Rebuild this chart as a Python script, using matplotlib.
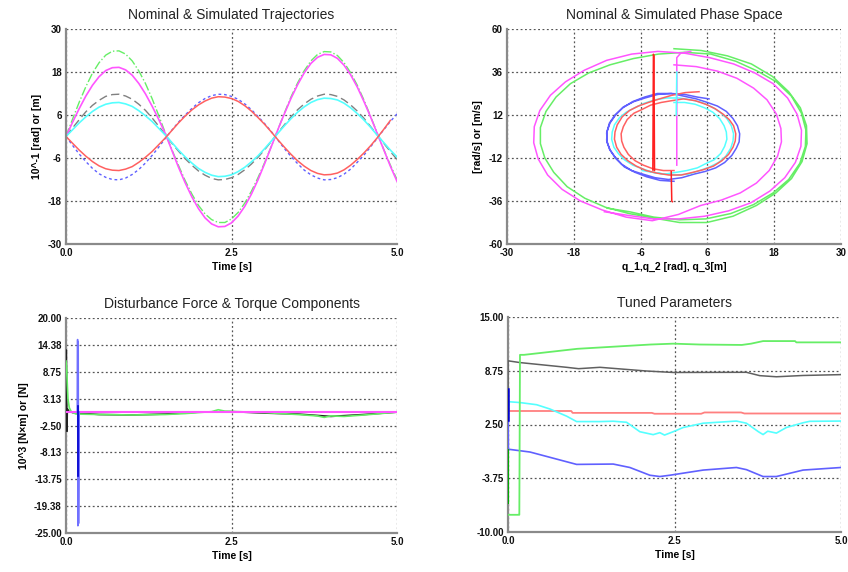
import numpy as np
import matplotlib
matplotlib.use("Agg")
import matplotlib.pyplot as plt

plt.rcParams['font.family'] = ['Liberation Sans', 'DejaVu Sans']
plt.rcParams['lines.solid_joinstyle'] = 'round'

# ---- trajectories (10^-1 rad or m), sampled every 0.1 s
t = np.round(np.arange(0, 51) * 0.1, 2)
q1_nom = [0, 4.9, 9.6, 13.9, 17.7, 20.6, 22.7, 23.8, 23.9, 23.0, 21.1, 18.3, 14.8, 10.6, 5.9, 1.0,
          -3.7, -8.1, -12.3, -16.0, -19.2, -21.6, -23.2, -24.0, -24.0, -23.0, -21.2, -18.6, -15.3, -11.5, -7.3, -2.8,
          1.9, 6.6, 11.1, 15.0, 18.4, 21.1, 22.9, 23.7, 23.6, 22.6, 20.6, 17.8, 14.3, 10.2, 5.7, 1.0,
          -3.6, -8.0, -12.0]
q1_sim = [0, 4.0, 7.8, 11.3, 14.3, 16.7, 18.4, 19.2, 19.3, 18.6, 17.1, 14.8, 11.9, 8.5, 4.8, 0.8,
          -3.9, -8.6, -12.9, -16.8, -20.1, -22.7, -24.4, -25.2, -25.1, -24.1, -22.2, -19.5, -16.1, -12.1, -7.6, -2.9,
          1.9, 6.4, 10.7, 14.5, 17.8, 20.4, 22.1, 22.9, 22.8, 21.8, 19.9, 17.2, 13.8, 9.8, 5.5, 0.9,
          -3.7, -8.3, -12.5]
q2_nom = [0, 2.4, 4.7, 6.9, 8.7, 10.1, 11.2, 11.7, 11.8, 11.3, 10.4, 9.0, 7.3, 5.2, 2.9, 0.5,
          -1.9, -4.1, -6.2, -8.0, -9.6, -10.8, -11.7, -12.1, -12.0, -11.5, -10.6, -9.3, -7.7, -5.8, -3.7, -1.4,
          1.0, 3.3, 5.5, 7.5, 9.1, 10.4, 11.3, 11.8, 11.7, 11.2, 10.2, 8.8, 7.1, 5.1, 2.8, 0.5,
          -1.9, -4.2, -6.4]
q2_sim = [0, 1.9, 3.8, 5.5, 7.0, 8.2, 9.0, 9.4, 9.5, 9.1, 8.4, 7.2, 5.8, 4.2, 2.3, 0.4,
          -1.7, -3.8, -5.7, -7.4, -8.9, -10.0, -10.8, -11.2, -11.1, -10.7, -9.8, -8.6, -7.1, -5.4, -3.4, -1.3,
          0.9, 3.0, 5.0, 6.8, 8.3, 9.5, 10.3, 10.7, 10.6, 10.2, 9.3, 8.0, 6.4, 4.6, 2.6, 0.4,
          -1.7, -3.8, -5.7]
q3_nom = [0, -2.5, -4.9, -7.0, -8.9, -10.4, -11.4, -12.0, -12.1, -11.6, -10.6, -9.2, -7.4, -5.3, -3.0, -0.5,
          1.8, 4.0, 6.0, 7.8, 9.4, 10.6, 11.4, 11.8, 11.7, 11.2, 10.4, 9.1, 7.5, 5.6, 3.6, 1.4,
          -1.0, -3.4, -5.6, -7.6, -9.4, -10.7, -11.6, -12.1, -12.0, -11.5, -10.5, -9.1, -7.2, -5.2, -2.9, -0.5,
          1.9, 4.2, 6.3]
q3_sim = [0, -1.9, -3.8, -5.5, -7.0, -8.2, -9.0, -9.4, -9.5, -9.1, -8.4, -7.2, -5.8, -4.2, -2.3, -0.4,
          1.7, 3.8, 5.7, 7.4, 8.8, 9.9, 10.7, 11.1, 11.0, 10.6, 9.8, 8.6, 7.1, 5.3, 3.4, 1.3,
          -0.9, -3.0, -5.0, -6.8, -8.3, -9.5, -10.3, -10.7, -10.6, -10.2, -9.3, -8.0, -6.4, -4.6, -2.6, -0.4,
          2.0, 4.5]

# start-up jumps in the phase plane (q, dq/dt)
red_jump_x = [-3.8, -3.7, -3.6, -3.5]
red_jump_y = [-18.7, 45.9, 45.0, -19.0]
red_start_x = [-0.3, -0.4, -0.5]
red_start_y = [-36.4, -36.0, -19.6]
mag_start_x = [0.5, 0.5, 1.2, 3.0]
mag_start_y = [-16.0, 44.0, 46.5, 47.5]
cyan_jump_x = [0.4, 0.5]
cyan_jump_y = [12.0, 36.0]

# ---- disturbances (10^3 N m or N)
dist_black_t = [0, 0.005, 0.01, 0.015, 0.02, 0.04, 0.1, 0.5, 1.0, 1.5, 2.0, 2.5, 3.0, 3.5, 4.0, 4.5, 5.0]
dist_black = [12.0, 13.3, 5.0, -3.7, 1.0, 0.5, 0.2, -0.2, -0.3, -0.1, 0.3, 0.4, 0.1, -0.1, -0.6, -0.2, 0.3]
dist_green_t = [0, 0.01, 0.02, 0.03, 0.05, 0.08, 0.15, 0.5, 1.0, 1.5, 1.8, 2.0, 2.2, 2.3, 2.4, 2.6,
                3.0, 3.5, 3.8, 3.9, 4.0, 4.2, 4.5, 5.0]
dist_green = [11.0, 9.5, 6.0, 3.0, 1.2, 0.4, -0.1, -0.2, -0.3, -0.2, 0.0, 0.2, 0.4, 0.8, 0.5, 0.4,
              0.2, -0.2, -0.5, -0.8, -0.5, -0.6, -0.3, 0.3]
dist_mag_t = [0.02, 5.0]
dist_mag = [0.3, 0.3]
dist_blue_t = [0.17, 0.175, 0.18, 0.185, 0.19, 0.2]
dist_blue = [0.2, 15.5, -23.5, 15.0, -23.0, 0.3]
dist_blue2_t = [0.185, 0.185]
dist_blue2 = [1.5, -13.1]

# ---- tuned parameters
par_green_t = [0, 0.155, 0.17, 0.18, 0.24, 1.04, 2.14, 2.48, 2.88, 3.51, 3.65, 3.83, 4.31, 4.33, 5.0]
par_green = [-8.0, -8.0, -8.0, 10.6, 10.6, 11.3, 11.8, 11.9, 11.8, 11.75, 11.9, 12.2, 12.2, 12.05, 12.05]
par_gray_t = [0, 0, 0.005, 0.18, 0.88, 1.06, 1.38, 2.08, 2.48, 3.58, 3.78, 4.03, 4.43, 5.0]
par_gray = [3.0, 9.9, 9.9, 9.7, 9.15, 8.99, 9.15, 8.72, 8.55, 8.57, 8.18, 8.05, 8.2, 8.3]
par_red_t = [0, 0.95, 0.97, 2.16, 2.2, 2.9, 2.95, 3.5, 3.55, 5.0]
par_red = [4.07, 4.07, 3.85, 3.85, 3.75, 3.75, 3.9, 3.9, 3.78, 3.78]
par_cyan_t = [0, 0.01, 0.18, 0.43, 0.63, 0.88, 1.03, 1.38, 1.58, 1.78, 1.98, 2.18, 2.28, 2.35, 2.48,
              2.63, 2.93, 3.43, 3.58, 3.76, 3.83, 3.9, 4.03, 4.18, 4.43, 4.53, 5.0]
par_cyan = [3.0, 5.15, 5.05, 4.8, 4.3, 3.47, 2.84, 2.84, 2.88, 2.76, 1.66, 1.32, 1.55, 1.27, 1.66,
            2.15, 2.65, 2.9, 2.65, 1.66, 1.33, 1.72, 1.5, 2.15, 2.7, 2.87, 2.9]
par_blue_t = [0, 0.005, 0.03, 0.33, 1.03, 1.58, 1.83, 2.13, 2.28, 2.43, 2.93, 3.43, 3.58, 3.83, 4.03, 4.43, 5.0]
par_blue = [6.6, -0.47, -0.4, -0.7, -2.14, -2.1, -2.5, -3.4, -3.55, -3.4, -2.8, -2.5, -2.75, -3.55, -3.55, -2.8, -2.5]
par_green0 = [-0.5, -6.6]
par_blue0 = [6.6, 3.0]

GREEN = '#66ee66'
MAG = '#ff55ff'
GRAY = '#808080'
CYAN = '#55ffff'
RED = '#ff6060'
BLUE = '#6060ff'

W, H = 848, 572
fig = plt.figure(figsize=(W / 100, H / 100), dpi=100)
fig.patch.set_facecolor('white')


def make_axes(x0, y0, x1, y1):
    return fig.add_axes([x0 / W, 1 - y1 / H, (x1 - x0) / W, (y1 - y0) / H])


def style(ax, title, xlim, xticks, xlabels, ylim, yticks, ylabels, xlabel=None, ylabel=None):
    ax.set_xlim(*xlim)
    ax.set_ylim(*ylim)
    ax.set_xticks(xticks)
    ax.set_xticklabels(xlabels)
    ax.set_yticks(yticks)
    ax.set_yticklabels(ylabels)
    ax.tick_params(length=0, labelsize=7, pad=3, labelcolor='#111111')
    for lab in ax.get_xticklabels() + ax.get_yticklabels():
        lab.set_fontweight('bold')
    ax.grid(True, color='#555555', linestyle=(0, (1.5, 2)), linewidth=0.9)
    ax.set_axisbelow(True)
    for s in ['top', 'right']:
        ax.spines[s].set_visible(False)
    for s in ['left', 'bottom']:
        ax.spines[s].set_color('#8a8a8a')
        ax.spines[s].set_linewidth(1.6)
    ax.set_title(title, fontsize=10, color='#222222', pad=7)
    if xlabel:
        ax.set_xlabel(xlabel, fontsize=7.5, fontweight='bold', labelpad=3)
    if ylabel:
        ax.set_ylabel(ylabel, fontsize=7.5, fontweight='bold', labelpad=4)


# top-left: trajectories
ax1 = make_axes(66, 29, 397, 244)
ax1.plot(t, q1_nom, color=GREEN, lw=1, ls='-.')
ax1.plot(t, q2_nom, color=GRAY, lw=1, ls=(0, (6, 3)))
ax1.plot(t, q3_nom, color=BLUE, lw=1, ls=(0, (2, 2)))
ax1.plot(t, q1_sim, color=MAG, lw=1.2)
ax1.plot(t, q2_sim, color=CYAN, lw=1.2)
ax1.plot(t[:len(q3_sim)], q3_sim, color=RED, lw=1.1)
style(ax1, 'Nominal & Simulated Trajectories', (0, 5), [0, 2.5, 5], ['0.0', '2.5', '5.0'],
      (-30, 30), [30, 18, 6, -6, -18, -30], ['30', '18', '6', '-6', '-18', '-30'],
      'Time [s]', '10^-1 [rad] or [m]')

# top-right: phase space (velocity from the trajectories)
ax2 = make_axes(507, 29, 841, 244)
for q, col in [(q1_nom, GREEN), (q1_sim, MAG), (q3_nom, BLUE), (q2_sim, CYAN), (q3_sim, RED)]:
    q = np.array(q)
    ax2.plot(q, np.gradient(q, t[:len(q)]), color=col, lw=1.1)
ax2.plot(mag_start_x, mag_start_y, color=MAG, lw=1.1)
ax2.plot(cyan_jump_x, cyan_jump_y, color=CYAN, lw=1.1)
ax2.plot(red_jump_x, red_jump_y, color='#ff2020', lw=1.1)
ax2.plot(red_start_x, red_start_y, color='#ff2020', lw=1.1)
style(ax2, 'Nominal & Simulated Phase Space', (-30, 30), [-30, -18, -6, 6, 18, 30],
      ['-30', '-18', '-6', '6', '18', '30'],
      (-60, 60), [60, 36, 12, -12, -36, -60], ['60', '36', '12', '-12', '-36', '-60'],
      'q_1,q_2 [rad], q_3[m]', '[rad/s] or [m/s]')

# bottom-left: disturbances
ax3 = make_axes(66, 318, 397, 533)
ax3.plot(dist_black_t, dist_black, color='#222222', lw=1.2, zorder=3)
ax3.plot(dist_green_t, dist_green, color=GREEN, lw=1.2, zorder=3)
ax3.plot(dist_mag_t, dist_mag, color=MAG, lw=1.5, zorder=3)
ax3.plot(dist_blue_t, dist_blue, color='#7070ff', lw=1.1, zorder=3)
ax3.plot(dist_blue2_t, dist_blue2, color='#0000cc', lw=1.2, zorder=3)
dticks = [20.0, 14.38, 8.75, 3.13, -2.5, -8.13, -13.75, -19.38, -25.0]
style(ax3, 'Disturbance Force & Torque Components', (0, 5), [0, 2.5, 5], ['0.0', '2.5', '5.0'],
      (-25, 20), dticks, ['%.2f' % v for v in dticks],
      'Time [s]', '10^3 [N×m] or [N]')

# bottom-right: tuned parameters
ax4 = make_axes(508, 317, 841, 532)
ax4.plot(par_gray_t, par_gray, color='#606060', lw=1.1, zorder=3)
ax4.plot(par_red_t, par_red, color='#ff8080', lw=1.3, zorder=3)
ax4.plot(par_cyan_t, par_cyan, color=CYAN, lw=1.2, zorder=3)
ax4.plot(par_blue_t, par_blue, color=BLUE, lw=1.2, zorder=3)
ax4.plot(par_green_t, par_green, color=GREEN, lw=1.3, zorder=3)
ax4.plot([0, 0], par_green0, color='#00aa00', lw=1.5, zorder=3)
ax4.plot([0, 0], par_blue0, color='#0000cc', lw=1.8, zorder=3)
pticks = [15.0, 8.75, 2.5, -3.75, -10.0]
style(ax4, 'Tuned Parameters', (0, 5), [0, 2.5, 5], ['0.0', '2.5', '5.0'],
      (-10, 15), pticks, ['%.2f' % v for v in pticks], 'Time [s]')

fig.savefig('out.png', dpi=100)
